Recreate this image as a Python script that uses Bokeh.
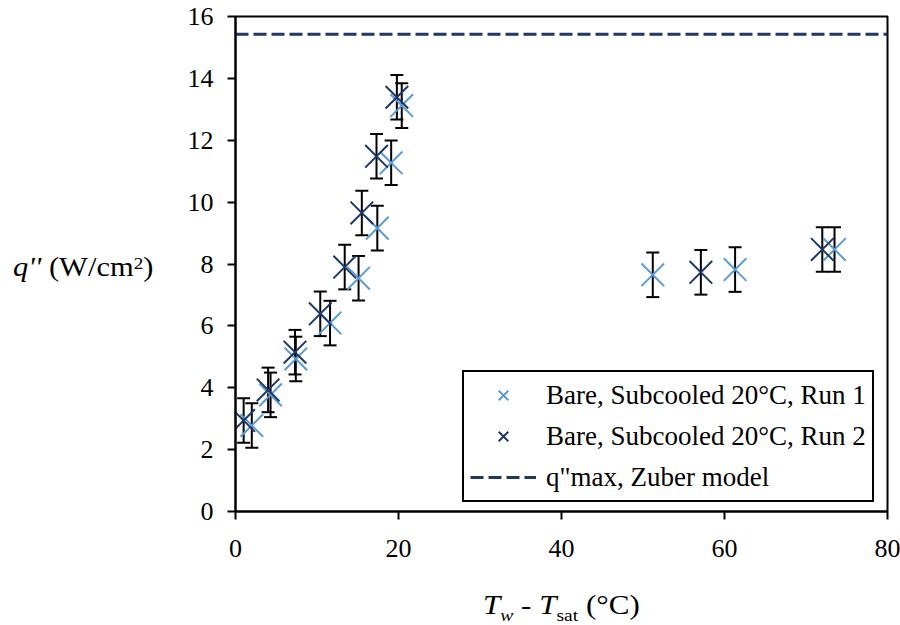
from bokeh.plotting import figure
from bokeh.models import ColumnDataSource, Whisker, TeeHead, FixedTicker, Div
from bokeh.layouts import row, column
from bokeh.embed import file_html
from bokeh.resources import INLINE

# ---------------- data ----------------
run1_dT = [2.0, 4.3, 7.4, 11.6, 15.1, 17.4, 19.1, 20.4, 51.2, 61.3, 73.5]
run1_q = [2.78, 3.77, 4.93, 6.09, 7.54, 9.16, 11.27, 13.12, 7.65, 7.82, 8.47]
run1_err = [0.72, 0.72, 0.72, 0.72, 0.72, 0.72, 0.72, 0.72, 0.72, 0.72, 0.72]

run2_dT = [1.0, 4.0, 7.3, 10.4, 13.4, 15.5, 17.3, 19.8, 57.1, 72.0]
run2_q = [2.94, 3.93, 5.15, 6.39, 7.90, 9.65, 11.48, 13.39, 7.73, 8.47]
run2_err = [0.72, 0.72, 0.72, 0.72, 0.72, 0.72, 0.72, 0.72, 0.72, 0.72]

zuber_qmax = 15.43
x_limits = [0, 80]
y_limits = [0, 16]
x_ticks = [0, 20, 40, 60, 80]
y_ticks = [0, 2, 4, 6, 8, 10, 12, 14, 16]

label_run1 = "Bare, Subcooled 20°C, Run 1"
label_run2 = "Bare, Subcooled 20°C, Run 2"
label_zuber = 'q"max, Zuber model'

LIGHT = "#5B9BD5"
DARK = "#1F3864"
FONT = "Liberation Serif"

YDIV_W = 170
FIG_H = 580

p = figure(width=900 - YDIV_W, height=FIG_H, x_range=tuple(x_limits), y_range=tuple(y_limits),
           output_backend="svg", toolbar_location=None, title=None,
           min_border_left=235 - YDIV_W, min_border_right=13,
           min_border_top=16, min_border_bottom=FIG_H - 511)

p.outline_line_color = "black"
p.outline_line_width = 2
p.outline_line_alpha = 1.0
p.xgrid.grid_line_color = None
p.ygrid.grid_line_color = None
p.background_fill_color = "white"
p.border_fill_color = "white"

for ax in (p.xaxis[0], p.yaxis[0]):
    ax.axis_line_color = "black"
    ax.axis_line_width = 2
    ax.major_tick_line_color = "black"
    ax.major_tick_line_width = 2
    ax.major_tick_out = 8
    ax.major_tick_in = 0
    ax.minor_tick_line_color = None
    ax.major_label_text_font = FONT
    ax.major_label_text_font_size = "26px"
    ax.major_label_text_color = "black"

p.xaxis.ticker = FixedTicker(ticks=x_ticks)
p.yaxis.ticker = FixedTicker(ticks=y_ticks)
p.xaxis.major_label_standoff = 20
p.yaxis.major_label_standoff = 14


def make_source(xs, ys, errs):
    return ColumnDataSource(dict(
        x=xs, y=ys,
        upper=[a + b for a, b in zip(ys, errs)],
        lower=[a - b for a, b in zip(ys, errs)],
    ))


src1 = make_source(run1_dT, run1_q, run1_err)
src2 = make_source(run2_dT, run2_q, run2_err)

for src in (src1, src2):
    w = Whisker(base="x", upper="upper", lower="lower", source=src, dimension="height",
                line_color="black", line_width=2,
                upper_head=TeeHead(size=13, line_color="black", line_width=2),
                lower_head=TeeHead(size=13, line_color="black", line_width=2))
    p.add_layout(w)

p.scatter("x", "y", source=src1, marker="x", size=32, line_color=LIGHT, line_width=2,
          legend_label=label_run1)
p.scatter("x", "y", source=src2, marker="x", size=32, line_color=DARK, line_width=2,
          legend_label=label_run2)
p.line(x=x_limits, y=[zuber_qmax, zuber_qmax], line_color=DARK, line_width=3,
       line_dash="13 5", legend_label=label_zuber)

lg = p.legend[0]
lg.location = (227, 9)
lg.label_text_font = FONT
lg.label_text_font_size = "27px"
lg.label_text_color = "black"
lg.glyph_width = 66
lg.glyph_height = 34
lg.padding = 6
lg.spacing = 7
lg.label_standoff = 10
lg.margin = 0
lg.border_line_color = "black"
lg.border_line_width = 2
lg.border_line_alpha = 1.0
lg.background_fill_alpha = 1.0

TXT = ("font-family:'Liberation Serif'; font-size:27px; line-height:27px; "
       "white-space:nowrap; color:black; position:absolute; "
       "transform-origin:0 0;")

ytitle_html = (
    f'<div style="position:relative; width:{YDIV_W}px; height:{FIG_H}px;">'
    f'<div style="{TXT} left:13px; top:250px; transform:scaleX(1.13);">'
    '<i>q\'\'</i> (W/cm<span style="font-size:17px; vertical-align:7px;">2</span>)'
    '</div></div>'
)
xtitle_html = (
    '<div style="position:relative; width:900px; height:45px;">'
    f'<div style="{TXT} left:483px; top:12px; transform:scaleX(1.15);">'
    '<i>T</i><span style="font-size:17px; vertical-align:-7px;"><i>w</i></span> - '
    '<i>T</i><span style="font-size:17px; vertical-align:-7px;">sat</span> (°C)'
    '</div></div>'
)

ydiv = Div(text=ytitle_html, width=YDIV_W, height=FIG_H, margin=0)
xdiv = Div(text=xtitle_html, width=900, height=625 - FIG_H, margin=0)

layout = column(row(ydiv, p, spacing=0), xdiv, spacing=0)

open("out.html", "w").write(file_html(layout, INLINE))
